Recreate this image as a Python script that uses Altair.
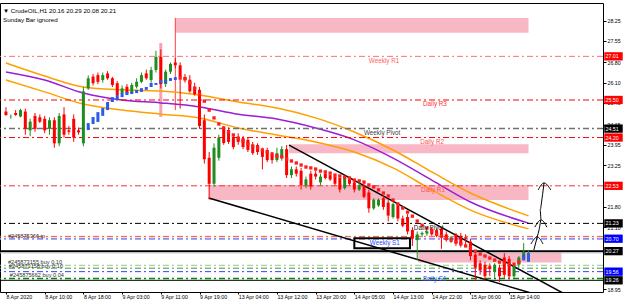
import altair as alt
import pandas as pd

# ---------------- data ----------------
opens = [25.10, 24.93, 25.05, 24.93, 25.10, 24.45, 24.95, 24.90, 24.85, 24.50,
         24.80, 24.00, 25.00, 24.45, 24.85, 24.45, 24.00, 25.90, 26.31, 26.36,
         26.19, 26.42, 26.25, 26.08, 25.73, 25.96, 25.73, 25.96, 26.13, 26.42,
         26.19, 26.54, 26.99, 26.05, 26.48, 26.80, 26.70, 26.30, 26.20, 25.95,
         25.85, 24.80, 23.50, 22.60, 23.50, 24.53, 24.46, 24.22, 24.22, 24.18,
         24.12, 23.94, 23.94, 23.77, 23.77, 23.60, 23.42, 23.50, 23.80, 22.90,
         23.10, 23.05, 22.55, 22.95, 22.95, 22.65, 22.95, 22.90, 22.85, 22.80,
         22.45, 22.75, 22.65, 22.40, 22.55, 22.30, 21.75, 21.85, 22.10, 21.95,
         21.45, 21.85, 21.40, 21.45, 21.00, 20.65, 20.85, 20.88, 21.05, 21.00,
         21.05, 20.85, 20.65, 20.85, 20.80, 20.75, 20.60, 20.15, 19.85, 19.80,
         19.75, 19.55, 19.70, 20.05, 20.00, 19.40, 19.80, 20.00, 20.16]
highs = [25.25, 25.00, 25.15, 25.20, 25.20, 24.85, 25.05, 25.00, 24.95, 24.90,
         24.90, 25.05, 25.25, 24.60, 25.00, 24.55, 25.95, 26.35, 26.40, 26.45,
         26.45, 26.50, 26.30, 26.15, 26.00, 26.05, 26.10, 26.25, 26.45, 26.55,
         26.65, 27.20, 27.25, 26.55, 26.80, 26.95, 26.80, 26.40, 26.36, 26.10,
         25.95, 25.00, 23.70, 24.00, 24.30, 24.60, 24.55, 24.30, 24.35, 24.25,
         24.20, 24.05, 24.00, 23.85, 23.85, 23.70, 23.85, 23.90, 23.94, 23.20,
         23.20, 23.15, 22.85, 23.05, 23.05, 22.95, 23.05, 22.95, 22.95, 22.90,
         22.85, 22.85, 22.75, 22.65, 22.65, 22.40, 22.10, 22.10, 22.20, 22.05,
         21.95, 21.95, 21.50, 21.55, 21.10, 20.95, 20.95, 21.00, 21.10, 21.05,
         21.10, 20.95, 20.80, 20.90, 20.90, 20.85, 20.70, 20.30, 19.95, 19.90,
         19.85, 19.85, 19.80, 20.20, 20.10, 19.80, 20.10, 20.55, 20.29]
lows = [24.95, 24.85, 24.95, 24.90, 24.30, 24.25, 24.40, 24.70, 24.35, 24.30,
        23.85, 23.90, 24.20, 24.30, 24.05, 24.30, 23.90, 25.85, 26.00, 26.05,
        26.10, 26.20, 25.95, 25.60, 25.65, 25.68, 25.70, 25.90, 26.08, 26.20,
        26.10, 26.45, 25.90, 25.95, 26.40, 26.60, 25.20, 26.10, 25.75, 25.65,
        24.50, 23.30, 22.07, 22.50, 23.40, 23.95, 23.98, 23.80, 23.95, 23.80,
        23.70, 23.60, 23.60, 23.10, 23.35, 23.30, 23.35, 23.40, 22.80, 22.80,
        22.85, 22.40, 22.45, 22.40, 22.75, 22.55, 22.75, 22.70, 22.55, 22.30,
        22.40, 22.55, 22.30, 22.35, 22.10, 21.60, 21.70, 21.80, 21.70, 21.30,
        21.40, 21.30, 21.10, 20.85, 20.45, 19.95, 20.75, 20.80, 20.80, 20.75,
        20.35, 20.60, 20.55, 20.45, 20.40, 20.45, 19.95, 19.25, 19.45, 19.25,
        19.40, 19.35, 19.20, 19.35, 19.30, 19.30, 19.70, 19.95, 20.08]
closes = [24.98, 24.94, 24.98, 25.15, 24.50, 24.75, 24.50, 24.75, 24.45, 24.80,
          24.00, 24.95, 24.30, 24.40, 24.20, 24.38, 25.80, 26.25, 26.08, 26.13,
          26.36, 26.25, 26.02, 25.67, 25.90, 25.73, 26.02, 26.13, 26.36, 26.25,
          26.54, 26.99, 26.05, 26.48, 26.75, 26.70, 26.30, 26.20, 25.80, 25.70,
          24.60, 23.45, 22.60, 23.85, 24.20, 24.01, 24.05, 23.87, 24.05, 23.87,
          23.77, 23.66, 23.70, 23.53, 23.42, 23.42, 23.66, 23.80, 22.90, 23.10,
          22.95, 22.55, 22.75, 22.50, 22.85, 22.85, 22.80, 22.75, 22.60, 22.40,
          22.80, 22.60, 22.40, 22.55, 22.15, 21.75, 22.05, 22.05, 21.80, 21.50,
          21.90, 21.40, 21.15, 20.95, 20.70, 20.85, 20.90, 20.95, 20.85, 20.80,
          20.75, 20.65, 20.75, 20.55, 20.50, 20.70, 20.10, 19.70, 19.60, 19.40,
          19.65, 19.80, 19.40, 19.45, 19.40, 19.75, 20.05, 20.25, 20.21]

ha_up_bars = list(range(17, 36)) + [107, 108]
ha_up_top = [24.70, 24.91, 25.08, 25.22, 25.43, 25.60, 25.67, 25.74, 25.78, 25.78,
             25.85, 25.91, 25.95, 26.09, 26.09, 26.19, 26.19, 26.26, 26.29, 20.15, 20.20]
ha_up_bot = [24.46, 24.67, 24.74, 24.95, 25.15, 25.43, 25.50, 25.60, 25.67, 25.71,
             25.74, 25.78, 25.85, 25.95, 26.02, 26.09, 26.09, 26.16, 26.19, 19.95, 19.90]
ha_dn_bars = list(range(36, 107))
ha_dn_mid = [26.26, 26.23, 26.09, 25.91, 25.71, 25.46, 25.15, 24.88, 24.67, 24.53,
             24.39, 24.29, 24.18, 24.08, 23.98, 23.91, 23.84, 23.77, 23.70, 23.63,
             23.56, 23.53, 23.46, 23.39, 23.32, 23.25, 23.18, 23.15, 23.11, 23.04,
             23.01, 22.97, 22.90, 22.87, 22.83, 22.80, 22.73, 22.70, 22.66, 22.56,
             22.49, 22.39, 22.28, 22.18, 22.04, 21.90, 21.76, 21.62, 21.48, 21.31,
             21.17, 21.07, 20.97, 20.86, 20.79, 20.72, 20.65, 20.58, 20.52, 20.45,
             20.38, 20.27, 20.17, 20.10, 20.03, 19.96, 19.89, 19.86, 19.82, 19.82, 19.89]

ma_bars = [0, 8, 16, 24, 32, 40, 48, 56, 64, 72, 80, 88, 96, 108]
ma_upper = [26.78, 26.33, 25.95, 25.85, 25.81, 25.67, 25.43, 25.22, 24.88, 24.39, 23.77, 23.01, 22.28, 21.49]
ma_mid = [26.47, 26.19, 25.74, 25.50, 25.40, 25.26, 25.01, 24.84, 24.53, 24.12, 23.49, 22.73, 21.97, 21.24]
ma_lower = [26.19, 25.78, 25.36, 25.15, 25.01, 24.88, 24.53, 24.29, 24.05, 23.70, 23.15, 22.39, 21.69, 21.04]

time_label_bars = [0, 8, 16, 24, 32, 40, 48, 56, 64, 72, 80, 88, 96, 104]
time_labels = ["8 Apr 2020", "8 Apr 10:00", "8 Apr 18:00", "9 Apr 03:00", "9 Apr 11:00",
               "9 Apr 19:00", "13 Apr 04:00", "13 Apr 12:00", "13 Apr 20:00",
               "14 Apr 05:00", "14 Apr 13:00", "14 Apr 22:00", "15 Apr 06:00", "15 Apr 14:00"]
price_ticks = [28.25, 27.55, 26.80, 26.10, 25.40, 24.65, 23.95, 23.25, 21.80, 21.10, 18.95]

level_prices = [27.01, 25.50, 24.51, 24.20, 22.53, 21.23, 20.78, 20.70, 20.27, 20.21,
                19.78, 19.68, 19.56, 19.32, 19.26]
level_styles = [("#ff7070", [6, 3, 2, 3], 1), ("#ff0000", [6, 3, 2, 3], 1),
                ("#707070", [6, 3, 2, 3], 1.5), ("#ff0000", [6, 3, 2, 3], 1),
                ("#ff3030", [6, 3, 2, 3], 1), ("#000000", [6, 3, 2, 3], 1),
                ("#ff5a1e", [6, 3, 2, 3], 1), ("#8c8cff", [6, 3, 2, 3], 2),
                ("#000000", [1, 0], 2), ("#c0c0c0", [1, 0], 1),
                ("#8cc88c", [6, 3, 2, 3], 1), ("#3ca03c", [6, 3, 2, 3], 1),
                ("#3c3cff", [6, 3, 2, 3], 1), ("#008c00", [6, 3, 2, 3], 1.5),
                ("#000000", [1, 0], 1)]

zone_x0 = [35.0, 58.5, 41.9, 85.2]
zone_x1 = [108.0, 108.0, 108.0, 114.8]
zone_top = [28.34, 23.97, 22.56, 20.27]
zone_bot = [27.83, 23.66, 22.04, 19.88]

trend_id = ["upper", "upper", "lower", "lower"]
trend_bar = [58.5, 118.0, 41.9, 112.0]
trend_price = [23.94, 18.56, 22.11, 18.65]

ann_text = ["Weekly R1", "Daily R3", "Weekly Pivot", "Daily R2", "Daily R1", "Daily Pivot"]
ann_bar = [75.0, 86.2, 74.0, 85.6, 85.8, 84.3]
ann_price = [27.01, 25.50, 24.51, 24.20, 22.53, 21.23]
ann_color = ["#ff6060", "#ff3030", "#404040", "#ff5050", "#ff5050", "#202020"]

order_text = ["#245875366 tp", "#245873155 buy 0.10", "#245873158 buy 0.10", "#245875662 buy 0.04"]
order_bar = [0.4, 0.4, 0.6, 0.8]
order_price = [20.80, 19.90, 19.77, 19.44]

badge_prices = [27.01, 25.50, 24.51, 24.20, 22.53, 21.23, 20.70, 20.27, 19.56, 19.26]
badge_colors = ["#ff0000", "#ff0000", "#000000", "#ff0000", "#ff0000", "#000000",
                "#0000ff", "#000000", "#0000ff", "#000000"]

arrow_id = ["stem"] * 7 + ["h1"] * 3 + ["h2"] * 3 + ["h3"] * 3
arrow_bar = [109.1, 109.8, 110.2, 110.6, 110.4, 110.8, 111.2,
             110.0, 111.2, 112.6, 109.3, 110.6, 111.8, 108.5, 109.8, 111.0]
arrow_price = [20.31, 20.76, 21.02, 21.35, 21.70, 22.10, 22.63,
               22.39, 22.63, 22.39, 21.10, 21.35, 21.10, 20.52, 20.76, 20.52]

# ---------------- scales / axes ----------------
FONT = "Liberation Sans"
xscale = alt.Scale(domain=[-0.2, 122.36], nice=False, zero=False)
yscale = alt.Scale(domain=[18.856, 28.856], nice=False, zero=False)
lab_js = "[" + ",".join("'" + t + "'" for t in time_labels) + "]"
xaxis = alt.Axis(values=time_label_bars, labelExpr=lab_js + "[round(datum.value/8)]",
                 orient="bottom", grid=False, tickSize=2, labelPadding=0, labelAlign="left",
                 labelFont=FONT, labelFontSize=5.3, labelColor="black", domain=False,
                 tickColor="black", labelOverlap=False, labelFlush=False)
yaxis = alt.Axis(values=price_ticks, format=".2f", orient="right", grid=False, tickSize=3,
                 labelPadding=1, labelFont=FONT, labelFontSize=5.3, labelColor="black",
                 domain=False, tickColor="black", labelOverlap=False, labelFlush=False)


def X(f):
    return alt.X(f + ":Q", scale=xscale, axis=xaxis, title=None)


def Y(f):
    return alt.Y(f + ":Q", scale=yscale, axis=yaxis, title=None)


n = len(opens)
candles = pd.DataFrame({"i": list(range(n)), "o": opens, "h": highs, "l": lows, "c": closes})
candles["col"] = ["#1f8c1f" if c >= o else "#ff0000" for o, c in zip(opens, closes)]

layers = []

zones = pd.DataFrame({"x0": zone_x0, "x1": zone_x1, "t": zone_top, "b": zone_bot})
layers.append(alt.Chart(zones).mark_rect(color="#f8b7c4").encode(
    x=X("x0"), x2="x1", y=Y("t"), y2="b"))

marks_v = pd.DataFrame({"i": [32, 35], "t": [27.47, 28.34], "b": [24.91, 25.15],
                        "col": ["#f5a3ae", "#ff4040"], "w": [3, 1]})
layers.append(alt.Chart(marks_v).mark_rule().encode(
    x=X("i"), y=Y("t"), y2="b", color=alt.Color("col:N", scale=None),
    strokeWidth=alt.StrokeWidth("w:Q", scale=None)))

ma = pd.DataFrame({"i": ma_bars * 3, "v": ma_upper + ma_mid + ma_lower,
                   "k": ["u"] * len(ma_bars) + ["m"] * len(ma_bars) + ["l"] * len(ma_bars)})
ma["col"] = ma["k"].map({"u": "#ffa000", "m": "#9a1ed6", "l": "#ffa000"})
layers.append(alt.Chart(ma).mark_line(interpolate="monotone", strokeWidth=1.5).encode(
    x=X("i"), y=Y("v"), detail="k:N", color=alt.Color("col:N", scale=None)))

for p, (col, dash, w) in zip(level_prices, level_styles):
    d = pd.DataFrame({"p": [p]})
    layers.append(alt.Chart(d).mark_rule(color=col, strokeDash=dash, strokeWidth=w).encode(y=Y("p")))

tr = pd.DataFrame({"id": trend_id, "i": trend_bar, "p": trend_price})
layers.append(alt.Chart(tr).mark_line(color="black", strokeWidth=1.5, clip=True).encode(
    x=X("i"), y=Y("p"), detail="id:N"))

# Weekly S1 box
wbox = pd.DataFrame({"x0": [72.0], "x1": [83.5], "t": [20.72], "b": [20.37]})
layers.append(alt.Chart(wbox).mark_rect(fill="white", fillOpacity=0.0, stroke="black", strokeWidth=2).encode(
    x=X("x0"), x2="x1", y=Y("t"), y2="b"))

layers.append(alt.Chart(candles).mark_rule(strokeWidth=1).encode(
    x=X("i"), y=Y("l"), y2="h", color=alt.Color("col:N", scale=None)))
layers.append(alt.Chart(candles).mark_bar(size=3).encode(
    x=X("i"), y=Y("o"), y2="c", color=alt.Color("col:N", scale=None)))

hau = pd.DataFrame({"i": ha_up_bars, "t": ha_up_top, "b": ha_up_bot})
layers.append(alt.Chart(hau).mark_bar(size=3, color="#2a5ae8").encode(x=X("i"), y=Y("t"), y2="b"))
had = pd.DataFrame({"i": ha_dn_bars, "m": ha_dn_mid})
layers.append(alt.Chart(had).mark_square(size=11, color="#ff1c1c", opacity=1, filled=True).encode(
    x=X("i"), y=Y("m")))

ann = pd.DataFrame({"t": ann_text, "i": ann_bar, "p": ann_price, "col": ann_color})
layers.append(alt.Chart(ann).mark_text(align="left", baseline="top", dy=1.5, font=FONT, fontSize=6.3).encode(
    x=X("i"), y=Y("p"), text="t:N", color=alt.Color("col:N", scale=None)))
s1 = pd.DataFrame({"t": ["Weekly S1", "Daily S1"], "i": [75.2, 86.2], "p": [20.545, 19.32]})
layers.append(alt.Chart(s1).mark_text(align="left", baseline="bottom", dy=[3.2, 0][0], font=FONT,
                                      fontSize=6.3, color="#2a4bff").encode(
    x=X("i"), y=Y("p"), text="t:N"))

odf = pd.DataFrame({"t": order_text, "i": order_bar, "p": order_price})
layers.append(alt.Chart(odf).mark_text(align="left", baseline="middle", font=FONT, fontSize=5.6,
                                       color="#303030").encode(x=X("i"), y=Y("p"), text="t:N"))

arr = pd.DataFrame({"id": arrow_id, "i": arrow_bar, "p": arrow_price, "o": list(range(len(arrow_id)))})
layers.append(alt.Chart(arr).mark_line(color="black", strokeWidth=1, interpolate="monotone").encode(
    x=X("i"), y=Y("p"), detail="id:N", order="o:Q"))

bdf = pd.DataFrame({"p": badge_prices, "col": badge_colors, "t": [f"{v:.2f}" for v in badge_prices]})
layers.append(alt.Chart(bdf).mark_point(shape="M -1 -0.45 L 1 -0.45 L 1 0.45 L -1 0.45 Z", size=340,
                                        filled=True, opacity=1, strokeWidth=0).encode(
    x=alt.value(613.5), y=Y("p"), color=alt.Color("col:N", scale=None)))
layers.append(alt.Chart(bdf).mark_text(align="left", baseline="middle", font=FONT, fontSize=5.3,
                                       color="white").encode(x=alt.value(605.5), y=Y("p"), text="t:N"))

title_df = pd.DataFrame({"t": ["\u25BC CrudeOIL,H1  20.16 20.29 20.08 20.21", "Sunday Bar ignored"],
                         "yy": [8.3, 16.8]})
layers.append(alt.Chart(title_df).mark_text(align="left", baseline="middle", font=FONT, fontSize=6.2,
                                            color="black").encode(
    x=alt.value(3), y=alt.Y("yy:Q", scale=None), text="t:N"))

chart = alt.layer(*layers).properties(
    width=603, height=289, autosize="none",
    padding={"left": 0, "top": 3, "right": 22, "bottom": 15},
    background="white",
).configure_view(stroke="black", strokeWidth=1)

chart.save("out.html", embed_options={"renderer": "svg", "actions": False})
